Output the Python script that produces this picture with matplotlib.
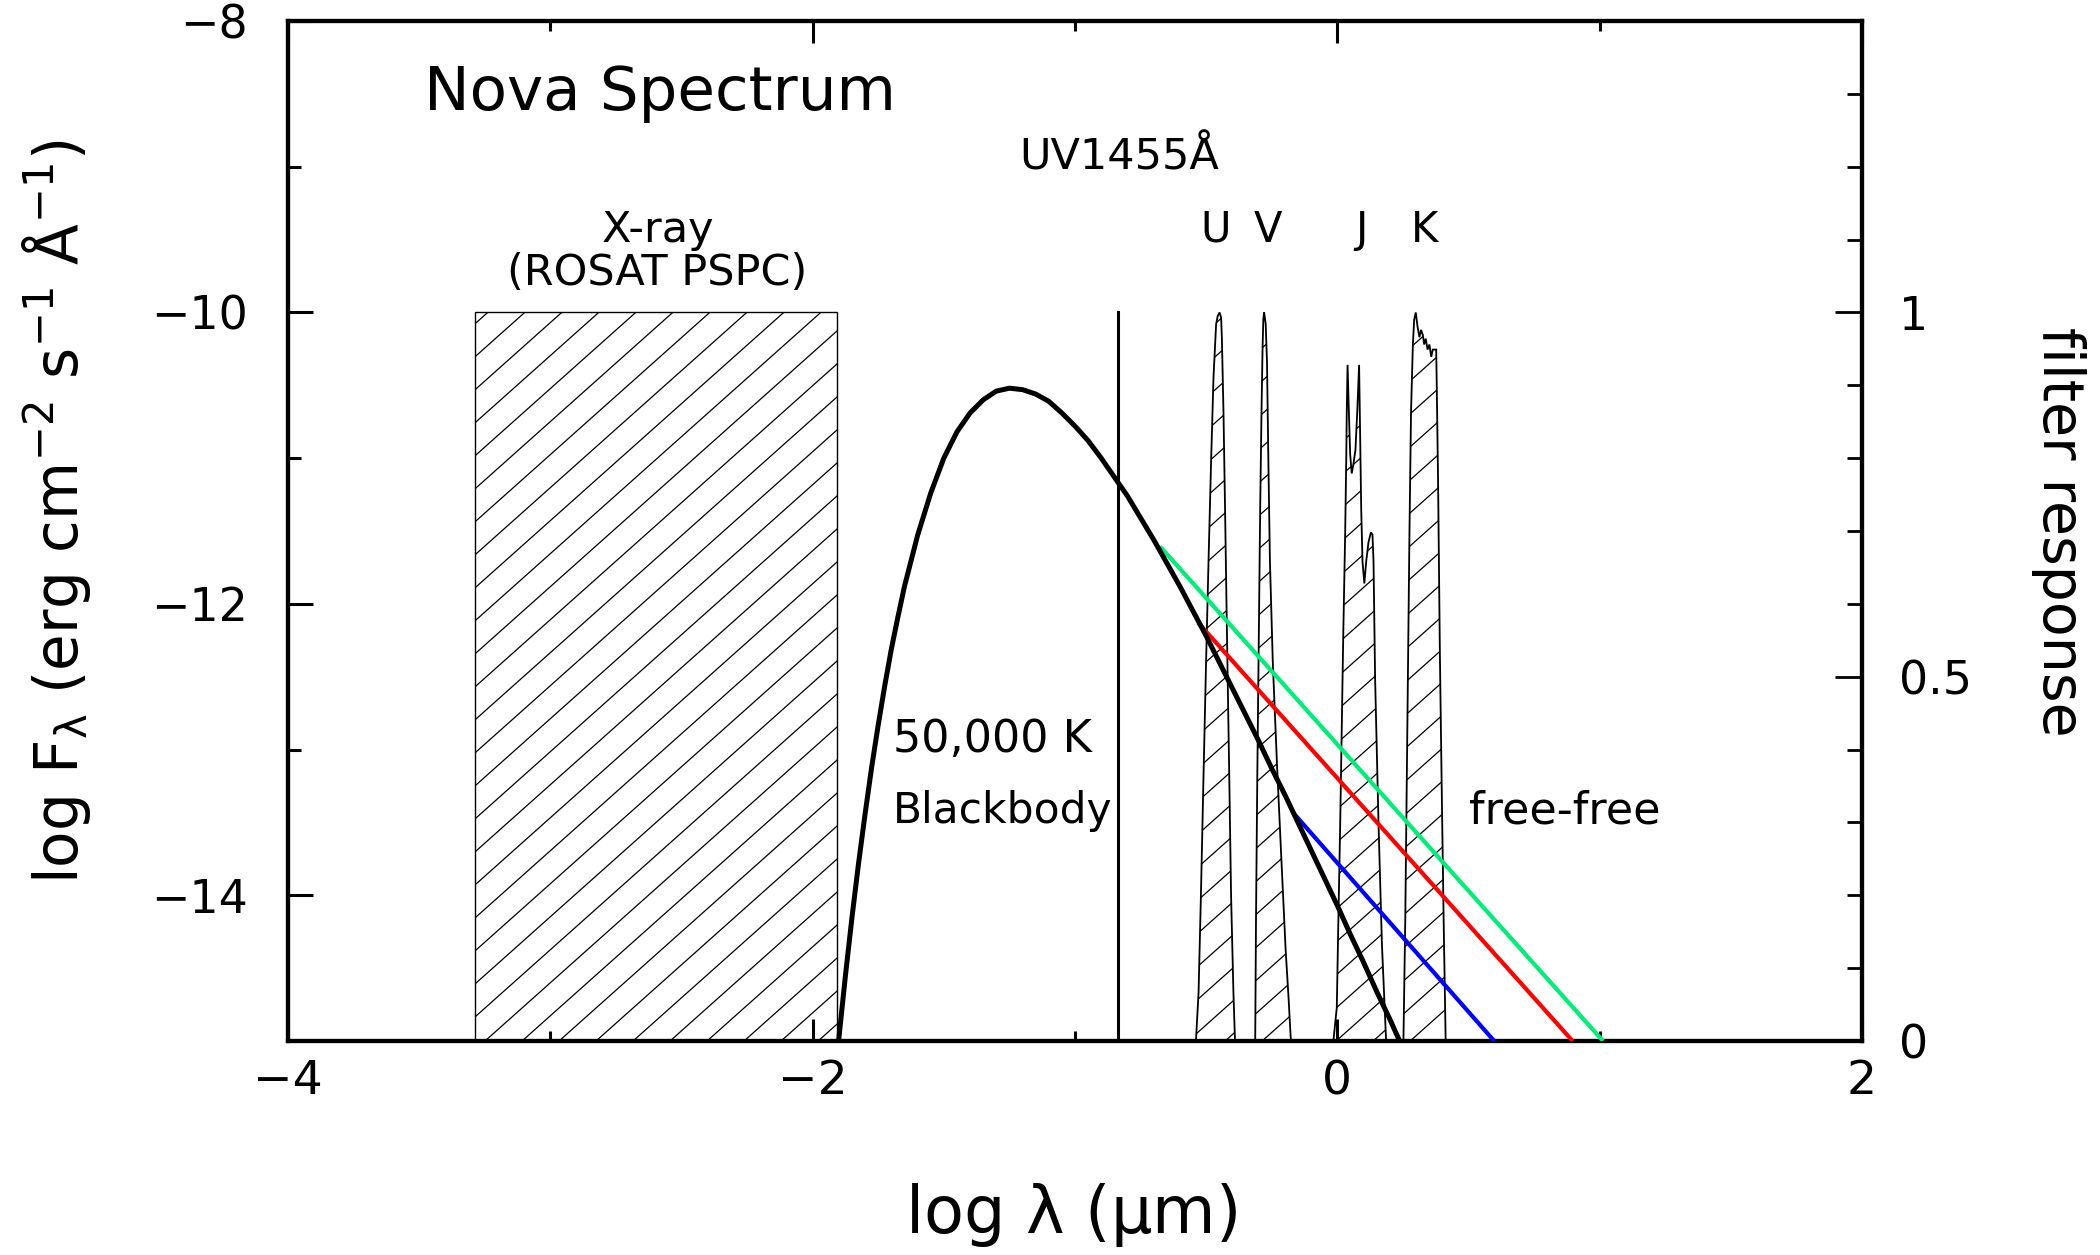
import math
import numpy as np
import matplotlib
matplotlib.use("Agg")
import matplotlib.pyplot as plt
from matplotlib.patches import Polygon, Rectangle
from matplotlib.collections import LineCollection
from matplotlib.ticker import FixedLocator, FuncFormatter

# ---------------- data ----------------
# 50,000 K blackbody, log F_lambda vs log lambda (um)
bb_logl = [-1.905, -1.90, -1.875, -1.85, -1.825, -1.80, -1.775, -1.75, -1.725, -1.70, -1.675,
           -1.65, -1.60, -1.55, -1.50, -1.45, -1.40, -1.35, -1.30, -1.25, -1.20, -1.15,
           -1.10, -1.05, -1.00, -0.95, -0.90, -0.85, -0.80, -0.75, -0.70, -0.65, -0.60,
           -0.55, -0.50, -0.45, -0.40, -0.35, -0.30, -0.25, -0.20, -0.15, -0.10, -0.05,
           0.00, 0.05, 0.10, 0.15, 0.20, 0.25]
bb_logf = [-15.07, -14.98, -14.55, -14.15, -13.78, -13.44, -13.12, -12.83, -12.56, -12.31, -12.09,
           -11.88, -11.53, -11.24, -11.00, -10.82, -10.69, -10.60, -10.54, -10.52, -10.53, -10.56,
           -10.61, -10.69, -10.78, -10.88, -11.00, -11.13, -11.26, -11.41, -11.56, -11.72, -11.88,
           -12.05, -12.22, -12.40, -12.58, -12.76, -12.94, -13.13, -13.31, -13.50, -13.69, -13.88,
           -14.07, -14.27, -14.46, -14.66, -14.85, -15.05]

# free-free power laws (start on blackbody, end at plot floor)
ff_green_logl = [-0.676, 1.013]
ff_green_logf = [-11.606, -15.0]
ff_red_logl = [-0.53, 0.897]
ff_red_logf = [-12.13, -15.0]
ff_blue_logl = [-0.17, 0.598]
ff_blue_logf = [-13.43, -15.0]

# X-ray band (ROSAT PSPC)
xray_logl = [-3.287, -1.908]
xray_top = -10.0

# UV 1455 A line
uv_logl = -0.837
uv_top = -10.0

# filter responses (right axis)
U_logl = [-0.539, -0.529, -0.520, -0.510, -0.500, -0.491, -0.481, -0.472, -0.462, -0.456,
          -0.449, -0.443, -0.440, -0.434, -0.428, -0.421, -0.412, -0.405, -0.396, -0.390]
U_resp = [0.0, 0.066, 0.199, 0.365, 0.525, 0.658, 0.798, 0.911, 0.984, 0.995,
          1.0, 0.993, 0.964, 0.864, 0.732, 0.565, 0.365, 0.199, 0.066, 0.0]

V_logl = [-0.313, -0.310, -0.305, -0.299, -0.294, -0.289, -0.285, -0.282, -0.279, -0.273,
          -0.268, -0.263, -0.257, -0.246, -0.230, -0.214, -0.197, -0.186, -0.177]
V_resp = [0.0, 0.166, 0.365, 0.565, 0.732, 0.864, 0.951, 0.991, 1.0, 0.984,
          0.931, 0.800, 0.660, 0.520, 0.380, 0.255, 0.125, 0.060, 0.0]

J_logl = [-0.015, -0.002, 0.004, 0.011, 0.017, 0.023, 0.030, 0.034, 0.036, 0.039,
          0.044, 0.049, 0.055, 0.061, 0.069, 0.076, 0.083, 0.087, 0.091, 0.096,
          0.103, 0.110, 0.119, 0.128, 0.134, 0.138, 0.144, 0.157, 0.170, 0.186]
J_resp = [0.0, 0.046, 0.166, 0.299, 0.432, 0.565, 0.698, 0.798, 0.864, 0.928,
          0.864, 0.805, 0.779, 0.791, 0.811, 0.864, 0.928, 0.831, 0.731, 0.658,
          0.628, 0.658, 0.685, 0.698, 0.695, 0.658, 0.498, 0.299, 0.133, 0.0]

K_logl = [0.252, 0.259, 0.267, 0.275, 0.281, 0.288, 0.293, 0.299, 0.306, 0.313,
          0.319, 0.326, 0.331, 0.337, 0.344, 0.351, 0.358, 0.364, 0.377, 0.379,
          0.384, 0.391, 0.399, 0.406, 0.413]
K_resp = [0.0, 0.166, 0.432, 0.698, 0.864, 0.956, 0.990, 1.0, 0.980, 0.966,
          0.976, 0.969, 0.956, 0.964, 0.949, 0.956, 0.939, 0.949, 0.949, 0.900,
          0.770, 0.530, 0.320, 0.150, 0.0]

filter_names = ["U", "V", "J", "K"]
filter_label_logl = [-0.462, -0.266, 0.091, 0.334]

x_major = [-4, -2, 0, 2]
x_minor = [-3, -1, 1]
y_major = [-8, -10, -12, -14]
y_minor = [-9, -11, -13]
r_major = [0, 0.5, 1]
r_minor = [0.1, 0.2, 0.3, 0.4, 0.6, 0.7, 0.8, 0.9, 1.1, 1.2, 1.3]

# ---------------- figure ----------------
plt.rcParams['font.family'] = ['DejaVu Sans']
plt.rcParams['mathtext.default'] = 'regular'

fig = plt.figure(figsize=(21, 12.55), dpi=100)
ax = fig.add_axes([0.13714, 0.17052, 0.74952, 0.81275])
ax2 = ax.twinx()
ax.set_zorder(ax2.get_zorder() + 1)
ax.patch.set_visible(False)

ax.set_xlim(-4, 2)
ax.set_ylim(-15, -8)
ax2.set_ylim(0, 1.4)

HATCH_SPACING = 0.02351   # axes fraction, horizontal
HATCH_SLOPE = 1.3765      # axes-fraction slope
HATCH_PHASE = 0.1252


def add_hatch(axis, patch):
    segs = []
    k0 = int(math.floor((-1.0 / HATCH_SLOPE - HATCH_PHASE) / HATCH_SPACING)) - 1
    k1 = int(math.ceil((1.0 - HATCH_PHASE) / HATCH_SPACING)) + 1
    for k in range(k0, k1 + 1):
        c = HATCH_PHASE + k * HATCH_SPACING
        segs.append([(c, 0.0), (c + 1.0 / HATCH_SLOPE, 1.0)])
    lc = LineCollection(segs, colors='black', linewidths=0.9,
                        transform=axis.transAxes, zorder=1.5)
    axis.add_collection(lc, autolim=False)
    lc.set_clip_path(patch)


# filters on the right axis
for L, R in [(U_logl, U_resp), (V_logl, V_resp), (J_logl, J_resp), (K_logl, K_resp)]:
    poly = Polygon(np.column_stack([L, R]), closed=True, fill=False,
                   edgecolor='black', linewidth=1.3, zorder=2)
    ax2.add_patch(poly)
    add_hatch(ax2, poly)

# X-ray box
box = Rectangle((xray_logl[0], -15), xray_logl[1] - xray_logl[0], xray_top - (-15),
                fill=False, edgecolor='black', linewidth=1.0, zorder=2)
ax.add_patch(box)
add_hatch(ax, box)

# UV line
ax.plot([uv_logl, uv_logl], [uv_top, -15], color='black', lw=2.2, zorder=3)

# free-free lines
ax.plot(ff_green_logl, ff_green_logf, color='#00ee77', lw=3.0, zorder=3, solid_capstyle='butt')
ax.plot(ff_red_logl, ff_red_logf, color='#ff0000', lw=3.0, zorder=3, solid_capstyle='butt')
ax.plot(ff_blue_logl, ff_blue_logf, color='#0000ff', lw=3.0, zorder=3, solid_capstyle='butt')

# blackbody
ax.plot(bb_logl, bb_logf, color='black', lw=3.6, zorder=4)

# ---------------- axes styling ----------------
for a in (ax, ax2):
    for s in a.spines.values():
        s.set_linewidth(3.0)

ax.xaxis.set_major_locator(FixedLocator(x_major))
ax.xaxis.set_minor_locator(FixedLocator(x_minor))
ax.yaxis.set_major_locator(FixedLocator(y_major))
ax.yaxis.set_minor_locator(FixedLocator(y_minor))
ax.xaxis.set_major_formatter(FuncFormatter(lambda v, p: ('%d' % v).replace('-', '\u2212')))
ax.yaxis.set_major_formatter(FuncFormatter(lambda v, p: ('%d' % v).replace('-', '\u2212')))

ax.tick_params(axis='x', which='major', direction='in', length=15.8, width=2.2,
               top=True, bottom=True, labelsize=34, pad=13)
ax.tick_params(axis='x', which='minor', direction='in', length=7.2, width=2.2,
               top=True, bottom=True)
ax.tick_params(axis='y', which='major', direction='in', length=18, width=2.2,
               left=True, right=False, labelsize=33, pad=29)
ax.tick_params(axis='y', which='minor', direction='in', length=9.4, width=2.2,
               left=True, right=False)

ax2.yaxis.set_major_locator(FixedLocator(r_major))
ax2.yaxis.set_minor_locator(FixedLocator(r_minor))
ax2.yaxis.set_major_formatter(FuncFormatter(lambda v, p: '%g' % v))
ax2.tick_params(axis='y', which='major', direction='in', length=19.4, width=2.0,
                right=True, left=False, labelsize=33, pad=27)
ax2.tick_params(axis='y', which='minor', direction='in', length=10.8, width=2.0,
                right=True, left=False)

# ---------------- labels ----------------
ax.text(-0.1334, 0.5186, r'log F$_{\lambda}$ (erg cm$^{-2}$ s$^{-1}$ Å$^{-1}$)',
        transform=ax.transAxes, rotation=90, rotation_mode='anchor',
        ha='center', va='baseline', fontsize=43)
ax.text(0.4975, -0.188, r'log $\lambda$ ($\mu$m)', transform=ax.transAxes,
        ha='center', va='baseline', fontsize=47)
ax.text(1.115, 0.4993, 'filter response', transform=ax.transAxes, rotation=-90,
        rotation_mode='anchor', ha='center', va='baseline', fontsize=41)

ax.text(-3.481, -8.611, 'Nova Spectrum', ha='left', va='baseline', fontsize=44)
ax.text(-0.832, -9.018, 'UV1455Å', ha='center', va='baseline', fontsize=31)
for name, xl in zip(filter_names, filter_label_logl):
    ax.text(xl, -9.515, name, ha='center', va='baseline', fontsize=30)
ax.text(-2.59, -9.515, 'X-ray', ha='center', va='baseline', fontsize=31)
ax.text(-2.594, -9.812, '(ROSAT PSPC)', ha='center', va='baseline', fontsize=31)
ax.text(-1.693, -13.016, '50,000 K', ha='left', va='baseline', fontsize=32)
ax.text(-1.693, -13.506, 'Blackbody', ha='left', va='baseline', fontsize=30.5)
ax.text(0.503, -13.506, 'free-free', ha='left', va='baseline', fontsize=32)

fig.savefig('out.png', dpi=100)
